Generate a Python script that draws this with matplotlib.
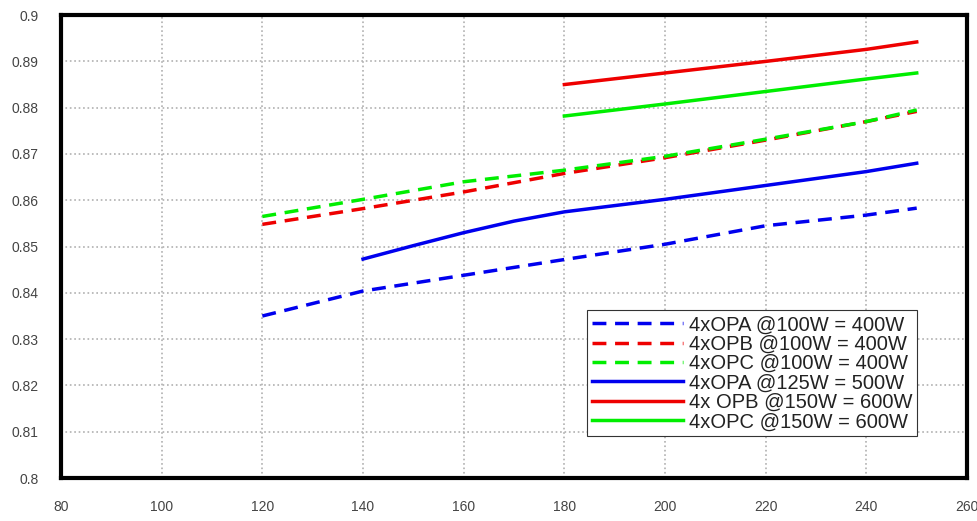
import matplotlib
matplotlib.use('Agg')
import matplotlib.pyplot as plt

# values
x_100 = [120, 140, 160, 180, 200, 220, 240, 250]
opa_100 = [0.8350, 0.8404, 0.8438, 0.8472, 0.8505, 0.8545, 0.8568, 0.8583]
opb_100 = [0.8548, 0.8582, 0.8618, 0.8658, 0.8692, 0.8730, 0.8770, 0.8792]
opc_100 = [0.8565, 0.8602, 0.8640, 0.8665, 0.8695, 0.8732, 0.8770, 0.8795]

x_125 = [140, 150, 160, 170, 180, 200, 220, 240, 250]
opa_125 = [0.8473, 0.8502, 0.8530, 0.8555, 0.8575, 0.8602, 0.8632, 0.8662, 0.8680]

x_150 = [180, 200, 220, 240, 250]
opb_150 = [0.8850, 0.8875, 0.8900, 0.8926, 0.8942]
opc_150 = [0.8782, 0.8808, 0.8835, 0.8862, 0.8875]

labels = ['4xOPA @100W = 400W', '4xOPB @100W = 400W', '4xOPC @100W = 400W',
          '4xOPA @125W = 500W', '4x OPB @150W = 600W', '4xOPC @150W = 600W']

plt.rcParams['font.family'] = ['Liberation Sans', 'DejaVu Sans']

fig = plt.figure(figsize=(9.78, 5.21), dpi=100)
ax = fig.add_axes([0.0624, 0.0825, 0.9264, 0.8885])

dash = (0, (4, 2.5))
ax.plot(x_100, opa_100, color='#0000ee', lw=2.5, ls=dash, label=labels[0])
ax.plot(x_100, opb_100, color='#ee0000', lw=2.5, ls=dash, label=labels[1])
ax.plot(x_100, opc_100, color='#00ee00', lw=2.5, ls=dash, label=labels[2])
ax.plot(x_125, opa_125, color='#0000ee', lw=2.5, label=labels[3])
ax.plot(x_150, opb_150, color='#ee0000', lw=2.5, label=labels[4])
ax.plot(x_150, opc_150, color='#00ee00', lw=2.5, label=labels[5])

ax.set_xlim(80, 260)
ax.set_ylim(0.8, 0.9)
ax.set_xticks(range(80, 261, 20))
ax.set_yticks([0.8 + i * 0.01 for i in range(11)])
ax.set_yticklabels(['0.8', '0.81', '0.82', '0.83', '0.84', '0.85', '0.86', '0.87', '0.88', '0.89', '0.9'])
ax.tick_params(labelsize=10, colors='#444444', length=0)
ax.tick_params(axis='x', pad=16)
ax.tick_params(axis='y', pad=16)
ax.grid(True, color='#b0b0b0', ls=':', lw=1.2)

for s in ax.spines.values():
    s.set_linewidth(3)
    s.set_color('black')

leg = ax.legend(loc='lower right', bbox_to_anchor=(0.945, 0.09), borderaxespad=0,
                fontsize=14.5, frameon=True, fancybox=False, framealpha=1, edgecolor='#333333',
                borderpad=0.25, labelspacing=0.02, handlelength=4.5, handletextpad=0.3)
leg.get_frame().set_linewidth(0.8)
for t in leg.get_texts():
    t.set_color('#222222')

plt.savefig('out.png', dpi=100)
